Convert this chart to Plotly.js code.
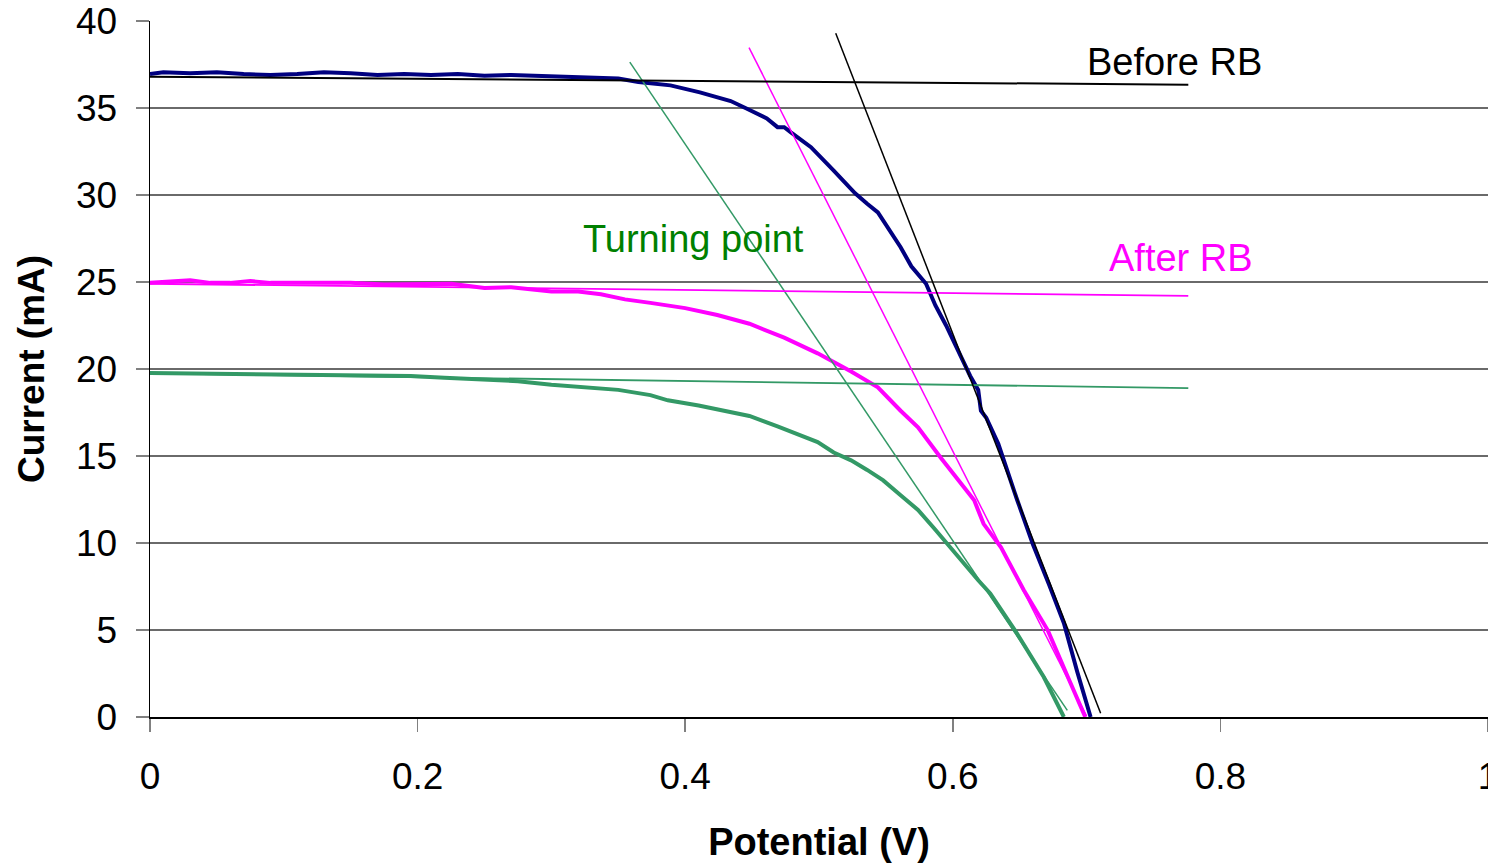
<!DOCTYPE html>
<html>
<head>
<meta charset="utf-8">
<script src="https://cdn.plot.ly/plotly-3.0.1.min.js"></script>
<style>html,body{margin:0;padding:0;background:#fff;}#chart{width:1488px;height:863px;}</style>
</head>
<body>
<div id="chart"></div>
<script>
// Measured I-V curves (Potential in V, Current in mA)
const beforeV = [0, 0.01, 0.03, 0.05, 0.07, 0.09, 0.11, 0.13, 0.15, 0.17, 0.19, 0.21, 0.23, 0.25, 0.27, 0.29, 0.31, 0.33, 0.35, 0.365, 0.389, 0.411, 0.434, 0.445, 0.461, 0.469, 0.474, 0.479, 0.494, 0.511, 0.527, 0.536, 0.544, 0.561, 0.569, 0.58, 0.583, 0.587, 0.595, 0.602, 0.608, 0.613, 0.619, 0.621, 0.625, 0.634, 0.648, 0.66, 0.672, 0.683, 0.693, 0.703];
const beforeI = [36.95, 37.05, 37.0, 37.05, 36.95, 36.9, 36.95, 37.05, 37.0, 36.9, 36.95, 36.9, 36.95, 36.85, 36.9, 36.85, 36.75, 36.7, 36.7, 36.5, 36.3, 35.9, 35.4, 35.0, 34.4, 33.9, 33.9, 33.6, 32.75, 31.4, 30.1, 29.5, 29.0, 27.0, 25.9, 24.9, 24.3, 23.65, 22.5, 21.35, 20.4, 19.6, 18.8, 17.6, 17.2, 15.7, 12.5, 9.9, 7.6, 5.4, 2.6, 0];

const afterV = [0, 0.015, 0.03, 0.045, 0.06, 0.075, 0.09, 0.12, 0.15, 0.175, 0.2, 0.225, 0.25, 0.27, 0.3, 0.32, 0.337, 0.355, 0.374, 0.4, 0.424, 0.448, 0.474, 0.499, 0.524, 0.544, 0.561, 0.574, 0.591, 0.605, 0.616, 0.623, 0.636, 0.653, 0.671, 0.686, 0.699];
const afterI = [24.95, 25.05, 25.1, 24.95, 24.95, 25.05, 24.95, 24.95, 24.95, 24.85, 24.85, 24.9, 24.65, 24.7, 24.45, 24.45, 24.3, 24.0, 23.8, 23.5, 23.1, 22.6, 21.8, 20.9, 19.85, 18.95, 17.6, 16.65, 14.9, 13.5, 12.45, 11.1, 9.75, 7.3, 4.98, 2.3, 0];

const turnV = [0, 0.05, 0.1, 0.15, 0.195, 0.22, 0.25, 0.275, 0.3, 0.337, 0.35, 0.374, 0.387, 0.41, 0.424, 0.448, 0.469, 0.499, 0.511, 0.524, 0.536, 0.548, 0.561, 0.574, 0.586, 0.598, 0.612, 0.619, 0.628, 0.648, 0.668, 0.683];
const turnI = [19.77, 19.72, 19.68, 19.65, 19.6, 19.5, 19.4, 19.3, 19.1, 18.9, 18.8, 18.5, 18.2, 17.9, 17.7, 17.3, 16.7, 15.8, 15.2, 14.75, 14.2, 13.6, 12.75, 11.9, 10.85, 9.75, 8.5, 7.86, 7.1, 4.8, 2.3, 0];

// Tangent lines (two end points each)
const beforeFlatV = [-0.007, 0.776];
const beforeFlatI = [36.8, 36.34];
const beforeSteepV = [0.5125, 0.7105];
const beforeSteepI = [39.3, 0.21];
const afterFlatV = [0, 0.776];
const afterFlatI = [24.9, 24.2];
const afterSteepV = [0.4477, 0.7];
const afterSteepI = [38.47, 0.05];
const turnFlatV = [-0.005, 0.776];
const turnFlatI = [19.75, 18.9];
const turnSteepV = [0.3586, 0.6856];
const turnSteepI = [37.64, 0.38];

// Labels
const labelTexts = ["Before RB", "After RB", "Turning point"];
const labelV = [0.7658, 0.7703, 0.4064];
const labelI = [37.63, 26.36, 27.45];
const labelColors = ["#000000", "#FF00FF", "#008000"];

const xTicks = [0, 0.2, 0.4, 0.6, 0.8, 1];
const xTickText = ["0", "0.2", "0.4", "0.6", "0.8", "1"];
const yTicks = [0, 5, 10, 15, 20, 25, 30, 35, 40];

const FONT = "Liberation Sans, Arial, sans-serif";
const BLUE = "#000080", MAG = "#FF00FF", GREEN = "#339966";

function curve(x, y, color, w) {
  return {x: x, y: y, mode: "lines", type: "scatter", line: {color: color, width: w}, hoverinfo: "skip", showlegend: false, cliponaxis: false};
}

const data = [
  curve(turnV, turnI, GREEN, 4),
  curve(afterV, afterI, MAG, 4),
  curve(beforeV, beforeI, BLUE, 4),
  curve(turnFlatV, turnFlatI, GREEN, 1.8),
  curve(turnSteepV, turnSteepI, GREEN, 1.5),
  curve(afterFlatV, afterFlatI, MAG, 1.8),
  curve(afterSteepV, afterSteepI, MAG, 1.5),
  curve(beforeFlatV, beforeFlatI, "#000000", 2),
  curve(beforeSteepV, beforeSteepI, "#000000", 1.5)
];

const annotations = labelTexts.map((t, i) => ({
  x: labelV[i], y: labelI[i], xref: "x", yref: "y", text: t, showarrow: false,
  xanchor: "center", yanchor: "middle",
  font: {family: FONT, size: 38, color: labelColors[i]}
}));

const layout = {
  width: 1488, height: 863,
  margin: {l: 150, r: 0, t: 21, b: 146, pad: 0},
  paper_bgcolor: "#ffffff", plot_bgcolor: "#ffffff",
  showlegend: false,
  font: {family: FONT, color: "#000000"},
  xaxis: {
    range: [0, 1], tickvals: xTicks, ticktext: xTickText,
    ticks: "outside", ticklen: 13, tickcolor: "#808080", tickwidth: 1.5,
    showline: true, linecolor: "#000000", linewidth: 2,
    showgrid: false, zeroline: false,
    tickfont: {family: FONT, size: 37, color: "#000000"},
    ticklabelstandoff: 13, ticklabeloverflow: "allow",
    title: {text: "<b>Potential (V)</b>", font: {family: FONT, size: 38, color: "#000000"}, standoff: 34},
    fixedrange: true
  },
  yaxis: {
    range: [0, 40], tickvals: yTicks,
    ticks: "outside", ticklen: 13, tickcolor: "#808080", tickwidth: 1.5,
    showline: true, linecolor: "#000000", linewidth: 1.5,
    showgrid: true, gridcolor: "#6a6a6a", gridwidth: 1.2,
    zeroline: false,
    tickfont: {family: FONT, size: 37, color: "#000000"},
    ticklabelstandoff: 11, ticklabeloverflow: "allow",
    title: {text: "<b>Current (mA)</b>", font: {family: FONT, size: 37, color: "#000000"}, standoff: 20},
    fixedrange: true
  },
  annotations: annotations
};

Plotly.newPlot("chart", data, layout, {displayModeBar: false, staticPlot: true});
</script>
</body>
</html>
